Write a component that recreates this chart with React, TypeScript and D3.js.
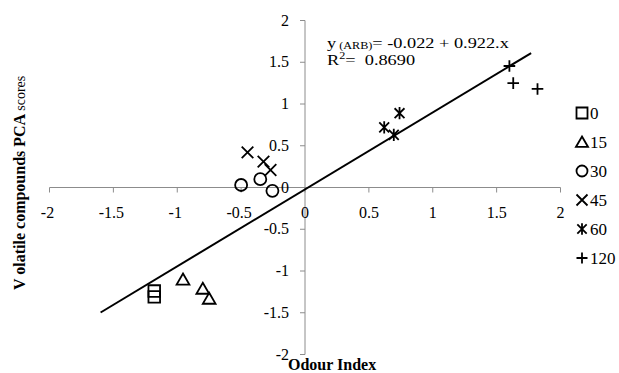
import React from 'react';
import * as d3 from 'd3';

// storage time groups and their marker shapes
const GROUPS = ['0', '15', '30', '45', '60', '120'];
const SHAPES = ['square', 'triangle', 'circle', 'cross', 'asterisk', 'plus'];

// Odour Index (x) and volatile PCA score (y) per group
const ODOUR = [
    [-1.18, -1.18],
    [-0.955, -0.8, -0.75],
    [-0.5, -0.35, -0.255],
    [-0.45, -0.325, -0.27],
    [0.74, 0.62, 0.695],
    [1.6, 1.63, 1.82],
];
const PCA = [
    [-1.24, -1.31],
    [-1.1, -1.21, -1.33],
    [0.03, 0.1, -0.04],
    [0.42, 0.31, 0.21],
    [0.89, 0.72, 0.63],
    [1.455, 1.25, 1.18],
];

const X_TICKS = [-2, -1.5, -1, -0.5, 0, 0.5, 1, 1.5, 2];
const Y_TICKS = [-2, -1.5, -1, -0.5, 0, 0.5, 1, 1.5, 2];

// regression line y = a + b.x
const FIT_A = -0.022;
const FIT_B = 0.922;
const FIT_RANGE = [-1.6, 1.77];

const W = 619;
const H = 373;
const FONT = '"Liberation Serif", "Times New Roman", serif';
const AXIS = '#8c8c8c';
const NB = '\u00a0';

const symbol = (shape: string, s: number) => {
    const p = d3.path();
    if (shape === 'square') {
        p.rect(-s, -s, 2 * s, 2 * s);
    } else if (shape === 'triangle') {
        p.moveTo(0, -s);
        p.lineTo(s * 1.1, s * 0.9);
        p.lineTo(-s * 1.1, s * 0.9);
        p.closePath();
    } else if (shape === 'circle') {
        p.arc(0, 0, s, 0, Math.PI * 2);
    } else if (shape === 'cross') {
        p.moveTo(-s, -s); p.lineTo(s, s);
        p.moveTo(s, -s); p.lineTo(-s, s);
    } else if (shape === 'asterisk') {
        p.moveTo(-s * 0.85, -s * 0.85); p.lineTo(s * 0.85, s * 0.85);
        p.moveTo(s * 0.85, -s * 0.85); p.lineTo(-s * 0.85, s * 0.85);
        p.moveTo(0, -s * 1.05); p.lineTo(0, s * 1.05);
    } else {
        p.moveTo(-s, 0); p.lineTo(s, 0);
        p.moveTo(0, -s); p.lineTo(0, s);
    }
    return p.toString();
};

export default function App() {
    const x = d3.scaleLinear().domain([-2, 2]).range([49.5, 560.5]);
    const y = d3.scaleLinear().domain([-2, 2]).range([354.5, 20.5]);

    const fitLine = d3.line<number>()
        .x(d => x(d))
        .y(d => y(FIT_A + FIT_B * d));

    return (
        <svg width={W} height={H} style={{ position: 'absolute', left: 0, top: 0, background: '#fff' }}
            fontFamily={FONT}>
            {/* axes through origin */}
            <line x1={x(-2)} x2={x(2)} y1={y(0)} y2={y(0)} stroke={AXIS} strokeWidth={1} />
            <line x1={x(0)} x2={x(0)} y1={y(-2)} y2={y(2)} stroke={AXIS} strokeWidth={1} />
            {X_TICKS.map(t => (
                <g key={'xt' + t}>
                    <line x1={x(t)} x2={x(t)} y1={y(0)} y2={y(0) + 5} stroke={AXIS} />
                    <text x={x(t) - (t < 0 ? 2 : 0)} y={y(0) + 30} textAnchor="middle" fontSize={16}>{String(t)}</text>
                </g>
            ))}
            {Y_TICKS.map(t => (
                <g key={'yt' + t}>
                    <line x1={x(0) - 5} x2={x(0)} y1={y(t)} y2={y(t)} stroke={AXIS} />
                    <text x={x(0) - 16} y={y(t) + 5} textAnchor="end" fontSize={16}>{String(t)}</text>
                </g>
            ))}

            {/* regression line */}
            <path d={fitLine(FIT_RANGE) || ''} fill="none" stroke="#000" strokeWidth={2} />

            {/* points */}
            {GROUPS.map((g, gi) => ODOUR[gi].map((ox, i) => (
                <path key={g + '-' + i} transform={`translate(${x(ox)},${y(PCA[gi][i])})`}
                    d={symbol(SHAPES[gi], SHAPES[gi] === 'circle' ? 6 : 5.8)}
                    fill="none" stroke="#000" strokeWidth={1.8} />
            )))}

            {/* equation, horizontally stretched like the source image */}
            <g transform="translate(327,48) scale(1.22,1)">
                <text x={0} y={0} fontSize={15}>
                    <tspan>y</tspan>
                    <tspan fontSize={10} dy={1}>{NB}(ARB)</tspan>
                    <tspan dy={-1}>=&#160;-0.022 + 0.922.x</tspan>
                    <tspan x={0} dy={17}>R</tspan>
                    <tspan fontSize={10} dy={-6}>2</tspan>
                    <tspan dy={6}>{'=' + NB + NB + '0.8690'}</tspan>
                </text>
            </g>

            {/* legend */}
            {GROUPS.map((g, gi) => {
                const ly = 113 + gi * 29;
                return (
                    <g key={'lg' + g}>
                        <path transform={`translate(582,${ly})`} d={symbol(SHAPES[gi], 5.5)}
                            fill="none" stroke="#000" strokeWidth={1.8} />
                        <text x={590} y={ly + 6} fontSize={17}>{g}</text>
                    </g>
                );
            })}

            {/* axis titles */}
            <text x={288} y={370} fontSize={16} fontWeight="bold">Odour Index</text>
            <text transform="translate(25,290) rotate(-90)" fontSize={16}>
                <tspan fontWeight="bold">V olatile compounds PCA </tspan>
                <tspan fontSize={14}>scores</tspan>
            </text>
        </svg>
    );
}
